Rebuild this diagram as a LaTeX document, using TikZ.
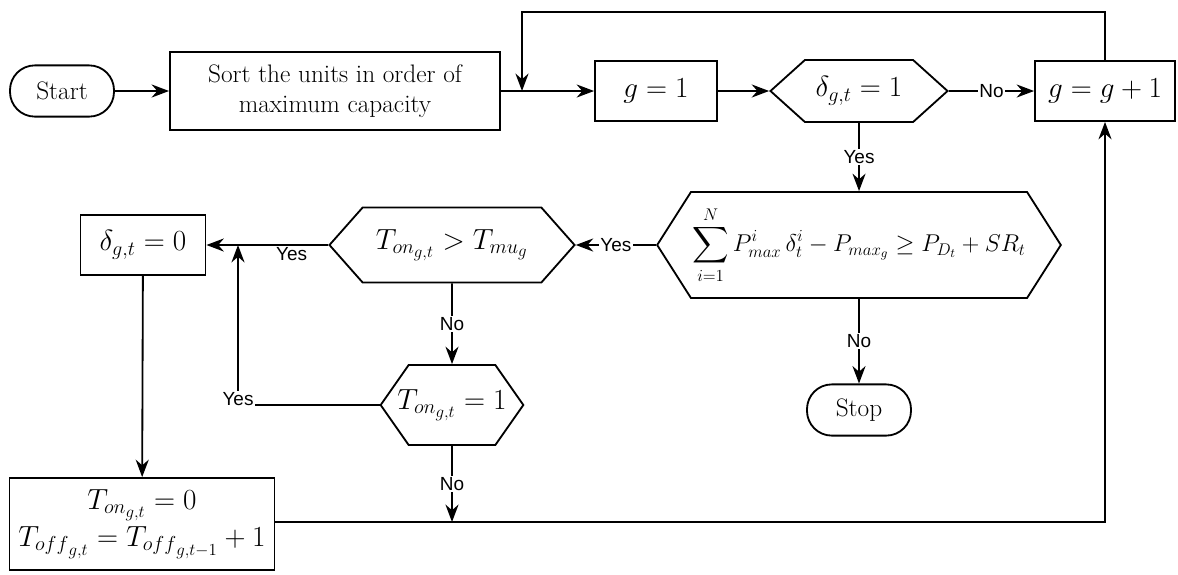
\documentclass[tikz,border=0pt]{standalone}
\usepackage{amsmath}
\usepackage{amssymb}
\usepackage{fontspec}
\newfontfamily\yesnofont{Liberation Sans}
\usepackage{tikz}
\usetikzlibrary{arrows.meta}
\usetikzlibrary{shapes.symbols}

\begin{document}
\begin{tikzpicture}[x=0.025cm, y=-0.025cm]

    % --- Global Settings ---
    \tikzset{
        every node/.style={font=\fontsize{18}{21}\selectfont},
        eqfont/.style={font=\fontsize{20.74}{26}\selectfont},
        termbox/.style={draw, line width=1.3pt, rounded corners=0.62cm, minimum width=2.6cm, minimum height=1.28cm},
        procbox/.style={draw, line width=1.3pt, align=center, inner sep=2pt},
        testbox/.style={draw, line width=1.3pt, signal, signal to=west and east, inner sep=1pt},
        flowarrow/.style={-{Stealth[scale=1.4]}, line width=1.3pt},
        answer/.style={font=\yesnofont\fontsize{13.5}{15}\selectfont, fill=white, inner sep=1pt}
    }

    \useasboundingbox (0,0) rectangle (1178,574);

    % --- Top row ---
    \node[termbox] (start) at (62,91) {Start};
    \node[procbox, minimum width=8.25cm, minimum height=1.95cm] (sort) at (335,91)
        {Sort the units in order of\\ maximum capacity};
    \node[procbox, eqfont, minimum width=3.05cm, minimum height=1.5cm] (gone) at (656,91) {$g=1$};
    \node[testbox, eqfont, minimum width=4.425cm, minimum height=1.55cm, signal pointer angle=84] (dcheck) at (859,91)
        {$\delta_{g,t}=1$};
    \node[procbox, eqfont, minimum width=3.5cm, minimum height=1.5cm] (gnext) at (1105,91) {$g=g+1$};

    % --- Checks ---
    \node[testbox, minimum width=10.075cm, minimum height=2.65cm, signal pointer angle=115] (capcheck) at (859,245)
        {$\displaystyle\sum_{i=1}^{N} P_{max}^{i}\,\delta_t^{i} - P_{{max}_g} \geq P_{D_t} + SR_t$};
    \node[testbox, eqfont, minimum width=6.125cm, minimum height=1.875cm, signal pointer angle=97] (oncheck) at (452,245)
        {$T_{{on}_{g,t}} > T_{{mu}_g}$};
    \node[testbox, eqfont, minimum height=2cm, signal pointer angle=110, inner ysep=0pt, inner xsep=-8pt] (onone) at (452,405)
        {$T_{{on}_{g,t}}=1$};
    \node[termbox] (stop) at (859,410) {Stop};

    % --- Left column ---
    \node[procbox, eqfont, minimum width=3.125cm, minimum height=1.5cm] (doff) at (143,245) {$\delta_{g,t}=0$};
    \node[procbox, eqfont, minimum width=6.625cm, minimum height=2.3cm, inner sep=0pt] (reset) at (142,524)
        {$T_{{on}_{g,t}}=0$\\ $T_{{off}_{g,t}}=T_{{off}_{g,t-1}}+1$};

    % --- Joints ---
    \coordinate (loopjoin) at (522,91);
    \coordinate (looptop) at (522,12);
    \coordinate (yesjoin) at (238,245);
    \coordinate (nojoin) at (452,522);

    % --- Connectors ---
    \draw[flowarrow] (start) -- (sort);
    \draw[flowarrow] (sort) -- (gone);
    \draw[flowarrow] (gone) -- (dcheck);
    \draw[flowarrow] (dcheck) -- node[answer] {No} (gnext);
    \draw[flowarrow] (gnext.north) |- (looptop) -- (loopjoin);
    \draw[flowarrow] (dcheck) -- node[answer] {Yes} (capcheck);
    \draw[flowarrow] (capcheck) -- node[answer] {Yes} (oncheck);
    \draw[flowarrow] (capcheck) -- node[answer] {No} (stop);
    \draw[flowarrow] (oncheck) -- node[answer, fill=none, below, pos=0.3] {Yes} (doff);
    \draw[flowarrow] (oncheck) -- node[answer] {No} (onone);
    \draw[flowarrow] (onone) -| node[answer, pos=0.5, yshift=4pt] {Yes} (yesjoin);
    \draw[flowarrow] (onone) -- node[answer] {No} (nojoin);
    \draw[flowarrow] (doff) -- (reset);
    \draw[flowarrow] (reset.east |- nojoin) -| (gnext);

\end{tikzpicture}
\end{document}
